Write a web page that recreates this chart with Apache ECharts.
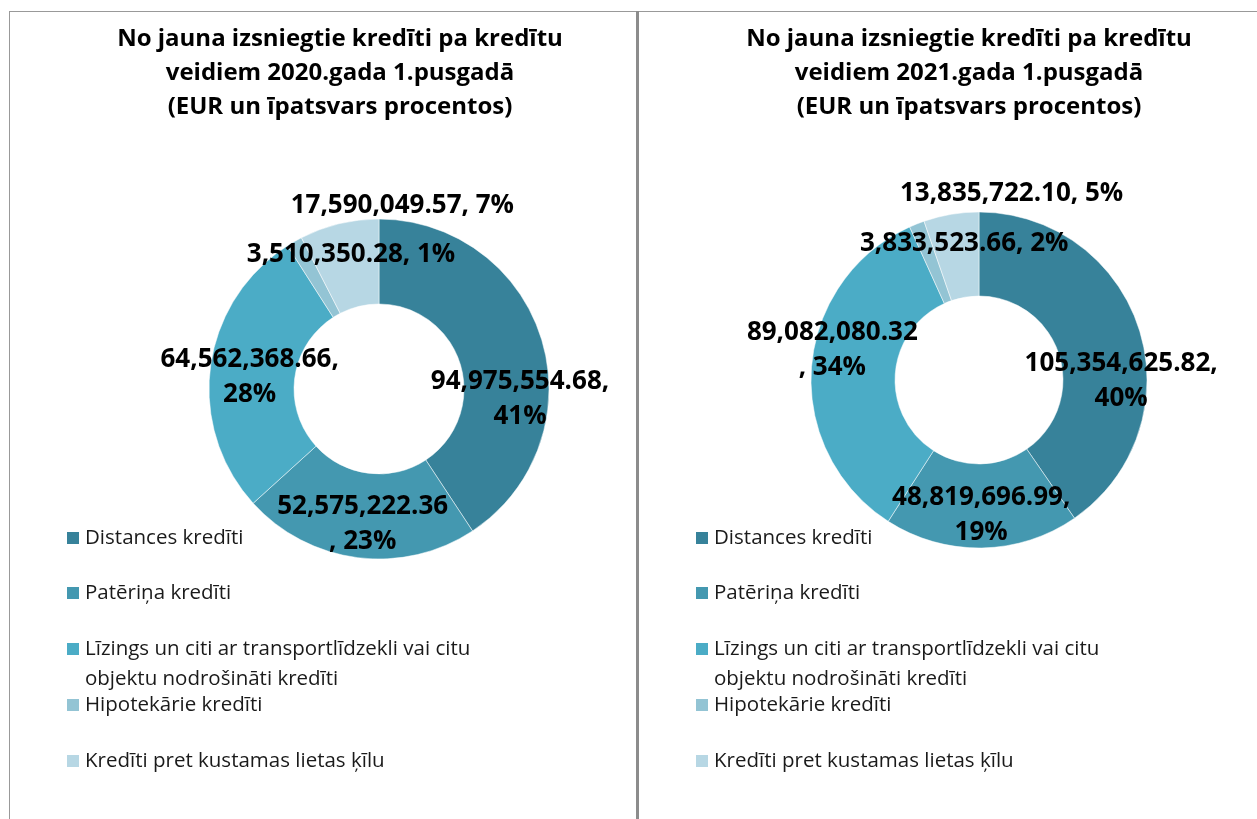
<!DOCTYPE html>
<html><head><meta charset="utf-8">
<script src="https://cdn.jsdelivr.net/npm/echarts@6/dist/echarts.min.js"></script>
<style>html,body{margin:0;padding:0;background:#fff}#c{width:1257px;height:819px}</style>
</head><body><div id="c"></div>
<script>
const categories = [
  'Distances kredīti',
  'Patēriņa kredīti',
  'Līzings un citi ar transportlīdzekli vai citu objektu nodrošināti kredīti',
  'Hipotekārie kredīti',
  'Kredīti pret kustamas lietas ķīlu'
];
const values2020 = [94975554.68, 52575222.36, 64562368.66, 3510350.28, 17590049.57];
const shares2020 = [41, 23, 28, 1, 7];
const values2021 = [105354625.82, 48819696.99, 89082080.32, 3833523.66, 13835722.10];
const shares2021 = [40, 19, 34, 2, 5];
const titles = [
  'No jauna izsniegtie kredīti pa kredītu\nveidiem 2020.gada 1.pusgadā\n(EUR un īpatsvars procentos)',
  'No jauna izsniegtie kredīti pa kredītu\nveidiem 2021.gada 1.pusgadā\n(EUR un īpatsvars procentos)'
];

// ---- styling / layout ----
const colors = ['#37829a', '#4498b0', '#4bacc6', '#93c4d4', '#b7d7e4'];
const FONT = '"Open Sans", "Noto Sans", sans-serif';
const panels = [
  { values: values2020, shares: shares2020, title: titles[0], titleX: 340,
    center: [379, 389], radius: [85, 170],
    breaks: ['after', 'before', 'after', 'none', 'none'],
    nudge: [[16, 48], [0, 6], [0, 5], [37, -21], [54, -57]], legendX: 65 },
  { values: values2021, shares: shares2021, title: titles[1], titleX: 969,
    center: [979, 380], radius: [84, 168],
    breaks: ['after', 'after', 'before', 'none', 'none'],
    nudge: [[19, 40], [0, 6], [-18, -21], [33, -17], [54, -59]], legendX: 694 }
];
const legendTops = [523, 578, 604, 690, 746];

const fmt = v => v.toLocaleString('en-US', {minimumFractionDigits: 2, maximumFractionDigits: 2});

const chart = echarts.init(document.getElementById('c'), null, {renderer: 'canvas'});

const option = {
  backgroundColor: '#ffffff',
  animation: false,
  color: colors,
  title: panels.map(p => ({
    text: p.title, left: p.titleX, top: 22, textAlign: 'center', padding: 0,
    textStyle: {fontFamily: FONT, fontWeight: 'bold', fontSize: 24, lineHeight: 34, color: '#000'}
  })),
  legend: panels.flatMap(p => categories.map((name, i) => ({
    data: [name], orient: 'vertical', left: p.legendX, top: legendTops[i], padding: 0,
    itemWidth: 14, itemHeight: 14, icon: 'rect', selectedMode: false,
    // the two-line entry gets an empty leading line so the marker sits beside its first line
    formatter: n => n.indexOf(' objektu') >= 0 ? ' \n' + n.replace(' objektu', '\nobjektu') : n,
    textStyle: {fontFamily: FONT, fontSize: 20.5, color: '#1a1a1a', lineHeight: 30}
  }))),
  graphic: [
    {type: 'line', shape: {x1: 9, y1: 11.5, x2: 1257, y2: 11.5}, style: {stroke: '#999', lineWidth: 1}, silent: true},
    {type: 'line', shape: {x1: 9.5, y1: 11, x2: 9.5, y2: 819}, style: {stroke: '#999', lineWidth: 1}, silent: true},
    {type: 'line', shape: {x1: 637.5, y1: 11, x2: 637.5, y2: 819}, style: {stroke: '#8c8c8c', lineWidth: 3}, silent: true}
  ],
  series: panels.map(p => ({
    type: 'pie',
    center: p.center,
    radius: p.radius,
    startAngle: 90,
    clockwise: true,
    avoidLabelOverlap: false,
    silent: true,
    itemStyle: {borderColor: '#ffffff', borderWidth: 0.5},
    label: {
      show: true, position: 'inside', color: '#000', fontFamily: FONT,
      fontWeight: 'bold', fontSize: 26, lineHeight: 35, align: 'center',
      formatter: params => {
        const i = params.dataIndex;
        const v = fmt(p.values[i]);
        const s = p.shares[i] + '%';
        if (p.breaks[i] === 'after') return v + ',\n' + s;
        if (p.breaks[i] === 'before') return v + '\n, ' + s;
        return v + ', ' + s;
      }
    },
    labelLine: {show: false},
    labelLayout: params => ({dx: p.nudge[params.dataIndex][0], dy: p.nudge[params.dataIndex][1]}),
    data: categories.map((name, i) => ({name, value: p.values[i], itemStyle: {color: colors[i]}}))
  }))
};
chart.setOption(option);
</script>
</body></html>
